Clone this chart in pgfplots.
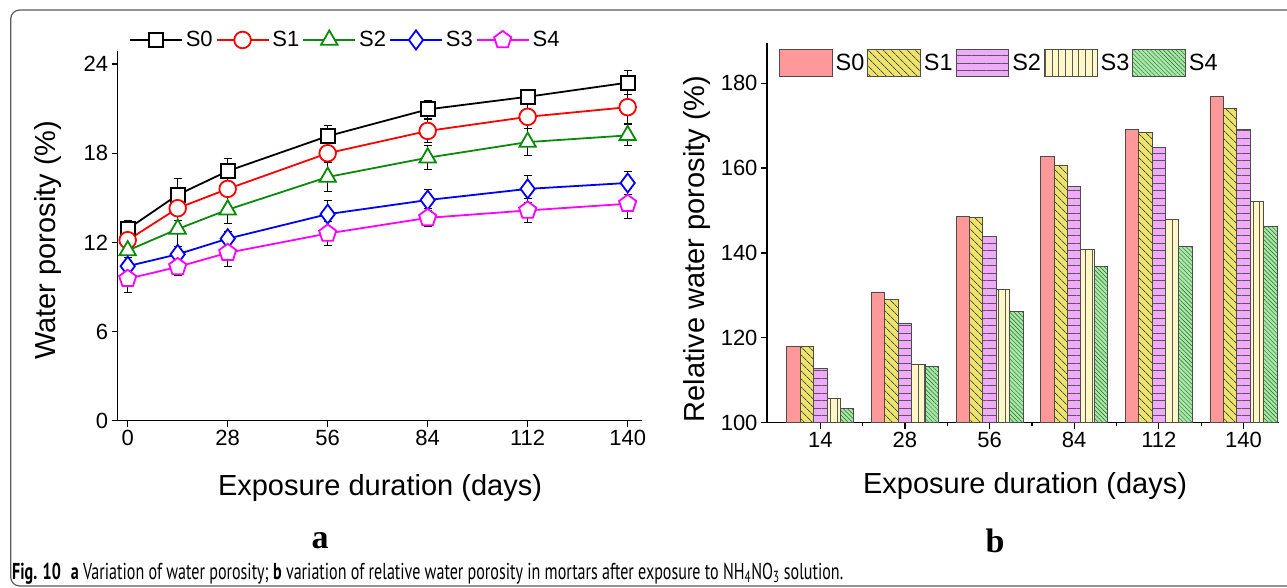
\documentclass[border=0pt]{standalone}
\usepackage{fontspec}
\setmainfont{Liberation Sans}
\newfontfamily\serifbold{Liberation Serif}
\newfontfamily\capfont[FakeStretch=0.8]{PT Sans}
\usepackage{pgfplots}
\pgfplotsset{compat=1.18}
\usepackage{pgfplotstable}
\usetikzlibrary{patterns.meta}

\definecolor{cS0}{HTML}{FF9999}
\definecolor{cS1}{HTML}{EDE36B}
\definecolor{cS2}{HTML}{F0AAFA}
\definecolor{cS3}{HTML}{FFF8C6}
\definecolor{cS4}{HTML}{A8E8A8}
\definecolor{lgreen}{HTML}{0A8A0A}
\definecolor{lmagenta}{HTML}{FF00FF}
\definecolor{lblue}{HTML}{0000FF}
\definecolor{lred}{HTML}{FF0000}
\definecolor{framegray}{HTML}{5A5A5A}

\pgfplotstableread{
x   S0     e0    S1     e1    S2     e2    S3     e3    S4     e4
0   12.90  0.60  12.15  0.40  11.45  0.50  10.40  0.40  9.55   0.90
14  15.20  1.10  14.30  0.80  12.90  1.20  11.20  0.50  10.35  0.60
28  16.80  0.85  15.60  0.40  14.20  0.90  12.25  0.50  11.30  0.90
56  19.15  0.70  18.00  0.50  16.40  1.00  13.90  0.90  12.60  0.80
84  20.95  0.60  19.50  0.80  17.70  0.80  14.85  0.70  13.65  0.60
112 21.80  0.40  20.45  0.80  18.75  0.90  15.60  0.90  14.15  0.80
140 22.75  0.80  21.10  1.10  19.20  0.70  16.00  0.80  14.60  1.00
}\porosity

\pgfplotstableread{
idx S0     S1     S2     S3     S4
0   117.9  117.9  112.8  105.7  103.4
1   130.8  129.0  123.5  113.8  113.3
2   148.5  148.3  143.8  131.5  126.2
3   162.8  160.7  155.7  140.9  136.9
4   169.2  168.5  164.8  147.8  141.6
5   176.8  174.1  169.2  152.1  146.3
}\relporosity

\pgfplotsset{barlegend/.style={legend image code/.code={\draw[##1] (0pt,-13.4pt) rectangle (52.7pt,13.4pt);}}}

\begin{document}
\begin{tikzpicture}[x=1pt,y=1pt]
\useasboundingbox (0,0) rectangle (1287,-588);
\begin{scope}
\clip (0,0) rectangle (1287,-588);
\draw[framegray, line width=1.2pt, rounded corners=9pt] (10.7,-10) rectangle (1320,-586);
\end{scope}

% ---------- panel a ----------
\begin{axis}[
  at={(117.7pt,-420.7pt)}, anchor=south west,
  scale only axis, width=524.6pt, height=370pt,
  xmin=-2.8, xmax=144.1, ymin=0, ymax=24.9,
  axis x line=bottom, axis y line=left,
  axis line style={-, line width=1.4pt, black},
  xtick={0,28,56,84,112,140}, ytick={0,6,12,18,24},
  tick align=outside, major tick length=6pt,
  tick style={line width=1.3pt, black},
  /pgf/number format/assume math mode=true,
  tick label style={font=\fontsize{22}{26}\selectfont},
  xlabel={Exposure duration (days)},
  ylabel={Water porosity (\%)},
  label style={font=\fontsize{29}{33}\selectfont},
  xlabel style={at={(axis description cs:0.5,-0.182)}, anchor=center},
  ylabel style={at={(axis description cs:-0.133,0.488)}, anchor=center},
  legend style={at={(axis description cs:0.0215,1.029)}, anchor=west,
    draw=none, fill=none, inner sep=0pt, outer sep=0pt,
    font=\fontsize{22}{25}\selectfont,
    nodes={inner sep=3pt}, /tikz/every odd column/.append style={column sep=0pt}},
  legend columns=5,
  legend image code/.code={\draw[mark repeat=2,mark phase=2,#1] plot coordinates {(0pt,0pt) (26pt,0pt) (52pt,0pt)};},
  every axis plot/.append style={line width=1.8pt},
  error bars/y dir=both, error bars/y explicit,
  error bars/error bar style={black, line width=1pt},
  error bars/error mark options={rotate=90, black, mark size=4pt, line width=1pt},
]
\addplot[black, mark=square*, mark size=7pt, mark options={fill=white, solid}] table[x=x, y=S0, y error=e0] {\porosity};
\addlegendentry{S0}
\addplot[lred, mark=*, mark size=8.3pt, mark options={fill=white, solid}] table[x=x, y=S1, y error=e1] {\porosity};
\addlegendentry{S1}
\addplot[lgreen, mark=triangle*, mark size=9.5pt, mark options={fill=white, solid}] table[x=x, y=S2, y error=e2] {\porosity};
\addlegendentry{S2}
\addplot[lblue, mark=diamond*, mark size=9.5pt, mark options={fill=white, solid}] table[x=x, y=S3, y error=e3] {\porosity};
\addlegendentry{S3}
\addplot[lmagenta, mark=pentagon*, mark size=9pt, mark options={fill=white, solid}] table[x=x, y=S4, y error=e4] {\porosity};
\addlegendentry{S4}
\end{axis}

% ---------- panel b ----------
\begin{axis}[
  at={(767pt,-422.7pt)}, anchor=south west,
  scale only axis, width=512pt, height=379.4pt,
  xmin=-0.63, xmax=5.42, ymin=100, ymax=189.4,
  ybar=0pt, bar width=13.4pt,
  axis x line=bottom, axis y line=left,
  axis line style={-, line width=1.4pt, black},
  xtick={0,1,2,3,4,5}, xticklabels={14,28,56,84,112,140},
  minor xtick={0.5,1.5,2.5,3.5,4.5},
  ytick={100,120,140,160,180},
  tick align=outside, major tick length=6pt, minor tick length=3.5pt,
  tick style={line width=1.3pt, black},
  /pgf/number format/assume math mode=true,
  tick label style={font=\fontsize{22}{26}\selectfont},
  xlabel={Exposure duration (days)},
  ylabel={Relative water porosity (\%)},
  label style={font=\fontsize{29}{33}\selectfont},
  xlabel style={at={(axis description cs:0.504,-0.167)}, anchor=center},
  ylabel style={at={(axis description cs:-0.1367,0.458)}, anchor=center},
  legend style={at={(axis description cs:0.0234,0.949)}, anchor=west,
    draw=none, fill=none, inner sep=0pt, outer sep=0pt,
    font=\fontsize{23.5}{26}\selectfont,
    nodes={inner sep=3pt}, /tikz/every odd column/.append style={column sep=0pt}},
  legend columns=5,
  every axis plot post/.append style={barlegend},
]
\addplot[fill=cS0, draw=black!70, line width=0.9pt] table[x=idx, y=S0] {\relporosity};
\addlegendentry{S0}
\addplot[fill=cS1, draw=black!70, line width=0.9pt,
  postaction={pattern={Lines[angle=-45,distance=5.4pt,line width=0.7pt]}, pattern color=black!75}] table[x=idx, y=S1] {\relporosity};
\addlegendentry{S1}
\addplot[fill=cS2, draw=black!70, line width=0.9pt,
  postaction={pattern={Lines[angle=0,distance=7.5pt,line width=0.7pt]}, pattern color=black!65}] table[x=idx, y=S2] {\relporosity};
\addlegendentry{S2}
\addplot[fill=cS3, draw=black!70, line width=0.9pt,
  postaction={pattern={Lines[angle=90,distance=6.7pt,line width=0.7pt]}, pattern color=black!65}] table[x=idx, y=S3] {\relporosity};
\addlegendentry{S3}
\addplot[fill=cS4, draw=black!70, line width=0.9pt,
  postaction={pattern={Lines[angle=-45,distance=3pt,line width=0.45pt]}, pattern color=green!30!black!85}] table[x=idx, y=S4] {\relporosity};
\addlegendentry{S4}
\end{axis}

\node[font=\serifbold\bfseries\fontsize{34}{38}\selectfont] at (320,-541) {a};
\node[font=\serifbold\bfseries\fontsize{34}{38}\selectfont] at (995,-541) {b};
\node[anchor=base west, inner sep=0pt] at (12,-579) {\resizebox{831pt}{\height}{\capfont\fontsize{23}{26}\selectfont\textbf{Fig. 10}\enspace\textbf{a} Variation of water porosity; \textbf{b} variation of relative water porosity in mortars after exposure to NH\textsubscript{4}NO\textsubscript{3} solution.}};
\end{tikzpicture}
\end{document}
